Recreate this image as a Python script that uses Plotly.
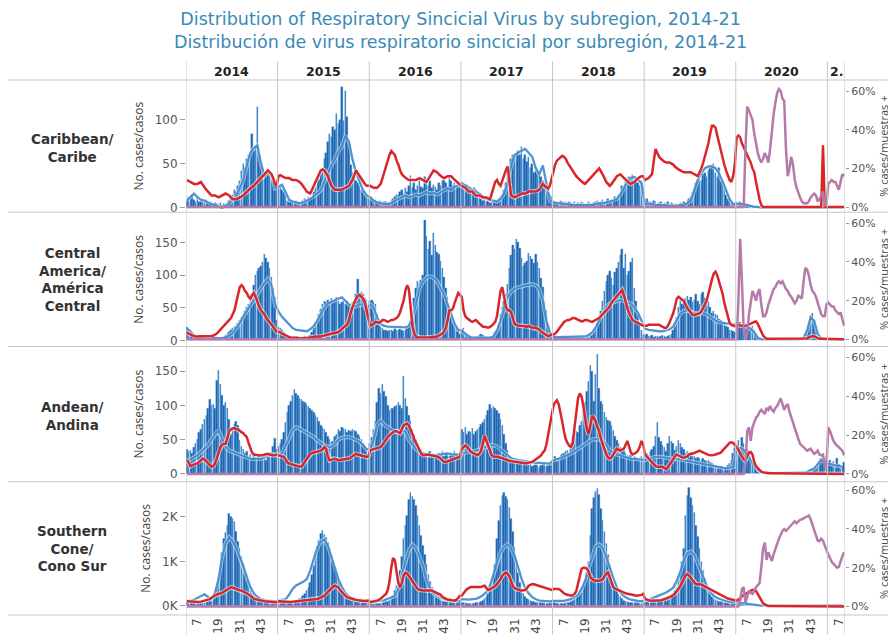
import plotly.graph_objects as go

# ---------------------------------------------------------------- labels
year_labels = ["2014", "2015", "2016", "2017", "2018", "2019", "2020", "2."]
week_ticks = [7, 19, 31, 43]
row_labels = ["Caribbean/<br>Caribe", "Central<br>America/<br>América<br>Central",
              "Andean/<br>Andina", "Southern<br>Cone/<br>Cono Sur"]
left_ticks = [[0, 50, 100], [0, 50, 100, 150], [0, 50, 100, 150], [0, 1000, 2000]]
left_ticktext = [["0", "50", "100"], ["0", "50", "100", "150"],
                 ["0", "50", "100", "150"], ["0K", "1K", "2K"]]
pct_ticks = [0, 20, 40, 60]
pct_ticktext = ["0%", "20%", "40%", "60%"]
title_lines = ["Distribution of Respiratory Sincicial Virus by subregion, 2014-21",
               "Distribución de virus respiratorio sincicial por subregión, 2014-21"]

# ---------------------------------------------------------------- data
# weekly cases (bars), one list per year 2014..2021
carib_cases = [
    [8,12,10,15,9,7,11,6,8,10,7,9,5,4,6,3,5,4,3,5,2,4,3,5,8,12,15,20,18,25,30,42,50,45,55,60,62,84,65,70,115,60,48,40,35,40,38,42,35,30,25,22],
    [22,25,20,18,14,8,6,7,5,6,8,5,7,6,8,10,9,12,10,11,18,22,28,32,38,42,55,62,75,84,80,92,88,107,95,100,137,99,133,103,73,49,40,35,30,28,25,20,18,15,14,12],
    [12,10,8,9,7,6,8,5,6,7,5,6,8,10,12,15,14,18,20,16,22,18,25,36,22,28,20,25,30,24,22,35,28,25,30,22,26,24,20,28,25,30,32,28,24,35,30,25,28,22,30,26],
    [28,25,22,26,20,24,18,22,20,15,12,10,8,10,6,8,5,6,6,8,7,10,12,15,20,28,35,45,55,60,58,62,65,60,69,55,60,52,58,45,50,40,42,38,40,35,30,28,25,20,15,12],
    [8,6,7,5,8,6,5,7,4,6,5,4,6,3,5,4,6,5,3,4,6,5,4,5,6,8,5,7,9,6,8,10,7,9,8,12,10,14,18,25,22,30,28,35,32,37,30,34,28,25,30,22],
    [8,10,6,7,5,8,6,4,5,7,3,5,4,6,3,5,4,2,4,3,5,4,6,5,8,10,12,18,22,28,32,35,30,38,40,35,42,45,48,50,40,35,45,30,28,22,15,10,8,5,4,3],
    [5,4,6,3,5,4,3,2,3,2,1,0,1,0,0,1,0,0,0,1,0,0,0,1,0,0,0,0,1,0,0,0,1,0,0,0,0,1,0,0,0,0,0,1,0,0,0,0,1,0,0,1],
    [1,0,1,1,0,1,0,1,1,0],
]
# smoothed cases (light blue line), every second week (1, 3, 5, ...)
carib_trend = [
    [8,12,16,12,9,8,6,4,3,1,0,2,5,9,14,22,32,48,62,68,71,51,36,40,38,22],
    [24,26,18,9,7,6,5,6,8,10,13,16,20,30,40,48,55,64,70,82,75,55,40,30,20,14],
    [12,8,6,5,4,4,5,8,10,12,14,12,13,15,14,16,18,16,17,15,18,20,22,20,24,25],
    [28,25,22,20,18,16,13,10,9,8,7,10,16,28,48,60,63,65,67,62,58,45,38,48,26,8],
    [6,5,5,4,4,3,3,3,3,3,3,3,4,5,5,6,7,8,10,15,22,30,34,35,32,28],
    [4,4,4,3,3,3,3,2,2,2,3,3,5,8,20,32,39,45,47,47,45,39,30,20,10,4],
    [5,4,4,3,2,1,1,0,0,0,0,0,0,0,0,0,0,0,0,0,0,0,0,0,0,0],
    [0,0,1,0,0],
]
# weekly % positive (red line)
carib_pos = [
    [14,13.5,13,12.5,12,12,12,12.5,13,11.5,10,9,8,7,6,6,6,5.5,5,5.5,6,6.5,7,6.5,6,5,4,4,4,4.5,5,5.5,6,7,8,9,10,10.5,11,12,13,14,15,16,17,18,19,18,17,15,12,11],
    [16,16.5,16,15.5,15,15,15,14.5,14,14,14,13.5,13,12,11,9.5,8,7.5,7,9,11,13,15,17,19,19.5,19,17.5,16,13.5,11,10,9,9,9,9,9,9.5,10,10.5,11,12.5,14,16.5,19,17.5,16,14.5,13,12,11,11],
    [11,10.5,10,10,10,11,12,15,18,21,25,27,29,28,27,24,22,19,17,16,15,14.5,14,14,14,14,14,14.5,15,14.5,14,13.5,13,14.5,16,17.5,19,18.5,18,17,16,15.5,15,15.5,16,16,16,15,14,13,12,11.5],
    [11,10.5,10,9,8,8,8,7,6,6,6,5.5,5,5,5,4.5,4,7,10,13,14,12,11,14,17,19,21,14,6,5.5,5,5.5,6,6.5,7,7,7,7.5,8,8,8,8,8,8.5,9,10.5,12,11,10,9.5,11,15],
    [19,22,24,25,26,26.5,26,25,23,21.5,20,18.5,17,16,15,14,13,12.5,12,13,14,15,16,17,18,19,20,18.5,17,15,13,12,11,12,13,14.5,16,16.5,17,16,15,14,13,12.5,12,12.5,13,14,15,15.5,16,16],
    [14,14.5,15,16,17,24,30,28,26,25,24,23.5,23,23,23,22.5,22,21,20,19.5,19,18.5,18,18,18,18,18,17.5,17,16.5,16,18,20,23,26,29,33,38,42,42,41,37,33,29,26,22,19,16,14,13,16,22],
    [36,37,36,33,31,29,27,25,23,20,18,13,8,4,1,0,0,0,0,0,0,0,0,0,0,0,0,0,0,0,0,0,0,0,0,0,0,0,0,0,0,0,0,0,0,0,0,0,0,32,0,0],
    [0,0,0,0,0,0,0,0,0,0],
]
# weekly % positive 2020-21 (purple line)
carib_pos20 = [
    [0,0,0,0,0,30,52,50,47,45,38,32,28,25,23,25,28,26,23,30,40,48,54,59,61,60,56,55,30,16,20,26,22,14,10,7,5,3,2,2,2,3,5,6,7,6,3,4,6,8,1,1],
    [12,13,14,13,13,11,9,13,17,16],
]

camer_cases = [
    [20,18,15,8,5,4,3,4,2,3,4,3,2,3,5,4,3,2,3,4,3,5,8,10,12,15,18,20,22,26,30,35,40,45,50,55,60,70,85,100,105,110,114,120,131,125,119,110,96,80,66,30],
    [20,18,15,12,10,8,7,5,4,6,5,4,3,5,4,6,5,7,8,12,18,25,32,40,48,55,60,58,62,60,65,58,62,66,60,55,58,62,56,60,55,50,58,62,70,94,72,74,70,65,61,56],
    [60,62,58,55,40,25,20,18,16,15,14,15,16,14,18,16,15,17,15,14,16,18,20,25,45,65,80,90,88,92,100,184,159,140,151,130,164,146,135,131,121,110,96,80,66,50,36,28,22,19,14,9],
    [15,18,12,10,8,6,5,4,5,6,8,10,8,5,4,3,4,5,8,12,16,25,40,50,60,70,86,110,130,146,140,154,150,141,125,114,118,121,134,128,124,118,131,119,111,95,81,60,46,25,12,6],
    [5,4,3,5,4,6,4,3,5,4,3,4,5,3,4,6,5,4,3,5,4,6,8,12,18,25,35,45,60,75,90,100,106,95,85,104,110,120,130,139,110,131,100,106,120,126,80,60,40,25,15,10],
    [8,10,7,6,8,5,6,7,5,6,8,6,5,7,8,10,15,22,35,50,61,55,60,65,68,62,66,58,62,71,60,55,70,74,65,56,60,50,41,45,40,38,32,30,26,28,22,20,16,15,14,12],
    [18,22,28,25,20,24,18,15,20,22,15,10,3,2,1,1,1,0,1,0,0,1,0,0,1,0,0,1,0,1,1,0,1,2,1,2,3,2,3,5,10,25,38,41,30,15,6,3,2,2,3,2],
    [3,2,2,3,2,2,1,2,1,1],
]
camer_trend = [
    [18,14,8,4,4,3,3,4,4,3,3,5,7,11,18,26,36,45,53,61,70,80,88,94,85,55],
    [44,36,30,24,19,16,15,14,14,17,22,30,41,50,56,59,61,64,66,60,55,52,52,55,55,48],
    [55,50,35,25,22,21,21,21,20,20,20,22,35,55,80,90,96,98,96,90,80,70,55,40,25,16],
    [15,10,6,4,4,4,4,4,4,6,15,30,50,66,74,79,81,83,84,85,86,84,78,61,30,12],
    [6,5,5,5,5,5,5,5,5,6,8,12,20,30,42,52,56,58,60,62,60,58,56,50,42,30],
    [18,16,15,14,14,14,15,17,21,32,41,45,46,43,42,41,42,41,38,34,30,28,27,26,25,24],
    [25,24,22,20,18,12,4,2,1,1,1,1,1,1,1,1,1,2,2,4,15,35,30,10,3,2],
    [2,2,2,1,1],
]
camer_pos = [
    [3.5,3,2.5,2,1.7,1.5,1.5,1.7,1.5,1.5,1.8,1.5,1.5,1.7,1.8,2,2.5,3,4,5,6,7,8,9,10,11,13,15,19,24,27,28,27,25,24,22,21,23,24,22,19,17,15,14,13,11,10,9,7.5,6.5,5,4],
    [4,3.5,3,2.5,2,1.5,1.2,1,1,0.8,1,0.8,0.5,0.5,0.8,0.5,0.5,0.8,1,1,1.2,1.5,1.5,1.2,1.5,1.8,2,2,2.2,2.5,2.8,3,3.2,3.4,3.8,4.5,5.5,6.5,7,7.6,10,14,17,19,21,22.5,23,22,21,19,15,10],
    [7,7.5,8,9,9,8.5,9,10,10,9.5,9,9.5,10,10,10.5,11,12,14,17,20,25,28,26,18,7,3,1.5,1,1,1,0.8,0.8,1,1,1,1.2,1.2,1.5,1.5,2,2.5,3,4,6,10,15,15,16,19,22,24,23],
    [22,15,12,11,10,9.5,9,9.3,10,9,8,7,6.5,6.5,6.2,6,6.5,7,8,9,12,18,25,27,22,17,15,15,14,11,8,7.5,7,7,7,7,6.8,6.5,7,6.5,6,6,6,5.5,5,4,3.4,3,2.5,1.7,2,2.5],
    [2.5,3,4,5,6.5,7.6,9,9.5,10,10,10.5,11,11,10.5,10,9.5,9.3,9.5,10,10,9.5,9.3,9,9.5,10,10.5,11,12,13,14,15,16,17,19,20,21,22,23,24.5,25.5,23,19,16,13.5,11.5,10,9.3,9,8.5,8,7.5,7],
    [7,7,7.5,7.5,7.6,7.6,7.5,7.6,7.6,7,6.5,6,6,7,9,11,13.5,17,21,22,21,20.5,20,18,16,15,14,12.7,12.5,12.8,13,13.5,14.5,16,18,20,24,28,31,34,35,33,30,27,23.7,19,15,11,8.5,7.5,7,6.8],
    [7.6,7.6,7.2,7,6.8,7,7.3,7.6,8,8.5,9,9.3,8,6,4,2,1,0.3,0.3,0.3,0.3,0.3,0.3,0.3,0.3,0.3,0.3,0.3,0.3,0.3,0.3,0.3,0.3,0.3,0.3,0.3,0.3,0.3,0.3,0.3,0.5,1,1.5,1.7,1.5,1,0.5,0.3,0.3,0.3,0.3,0.3],
    [0,0,0,0,0,0,0,0,0,0],
]
camer_pos20 = [
    [0,20,52,30,5,0,3,13,20,25,23,20,24,26,18,12,12,14,18,21,24,26,27,29,30,29,30,28,26,25,23,22,20,18.6,20,22.5,22,21,30,37,36,33,28,25,24,22,19,16,13,12,12,18],
    [19,18,17,17,15,14,13,14,11,7],
]

andean_cases = [
    [35,32,34,30,38,45,50,60,65,72,80,85,95,108,100,101,96,137,151,130,115,100,104,95,80,58,65,72,77,70,49,40,35,30,32,25,28,22,30,24,20,26,22,28,24,20,26,30,28,40,51,35],
    [40,45,50,60,75,89,100,106,115,123,118,115,110,108,106,104,102,99,95,92,89,86,82,76,70,68,65,60,54,50,46,48,55,58,65,62,68,66,65,60,63,62,65,64,62,58,54,50,44,40,34,28],
    [45,53,65,77,104,125,118,130,120,113,100,92,96,96,98,100,104,100,96,142,110,99,85,77,65,58,50,44,38,34,30,27,30,28,32,25,30,28,26,30,28,32,26,30,28,25,30,27,32,28,26,30],
    [65,60,68,58,62,60,66,58,62,65,68,72,75,80,85,92,101,95,98,96,92,88,80,70,58,45,34,26,22,20,18,16,15,14,18,15,12,14,16,13,11,12,14,12,10,12,14,13,11,12,13,14],
    [20,25,18,22,25,28,30,32,34,30,45,55,68,62,60,70,77,94,105,120,135,159,150,106,145,175,125,106,101,90,82,78,77,70,63,55,49,44,39,36,34,30,27,25,28,22,26,24,20,22,25,20],
    [28,30,27,32,35,40,55,75,53,48,42,38,33,45,54,48,44,34,40,49,45,39,35,30,32,30,28,25,26,22,24,22,20,22,20,18,20,16,15,13,12,11,10,11,9,10,8,12,15,20,30,38],
    [40,49,38,53,45,30,35,28,25,18,12,10,6,3,2,2,1,1,1,0,1,0,0,1,0,1,0,0,1,0,1,0,1,1,0,1,1,2,1,2,3,2,4,5,6,8,12,18,22,20,15,25],
    [15,20,12,18,10,22,14,8,12,16],
]
andean_trend = [
    [20,21,24,27,32,37,42,50,58,64,52,40,34,32,30,28,25,24,22,22,22,22,24,27,30,28],
    [26,30,40,52,64,68,66,63,60,58,54,49,45,42,40,39,44,50,53,54,54,52,50,47,42,36],
    [35,50,72,78,72,68,65,62,62,63,62,50,42,36,32,30,28,27,27,28,29,30,30,29,28,28],
    [30,31,31,32,33,35,38,40,42,42,40,36,32,27,23,21,20,19,18,17,17,16,16,16,15,15],
    [20,21,23,25,27,30,33,36,39,43,47,50,51,50,49,42,34,31,28,27,25,24,22,22,21,20],
    [20,22,24,25,25,24,24,23,22,22,21,20,19,18,17,16,15,14,13,12,11,10,9,8,9,10],
    [35,38,35,28,20,12,6,3,2,1,1,1,1,1,1,1,1,1,2,2,3,5,8,14,20,18],
    [15,14,12,12,10],
]
andean_pos = [
    [7,6,4,4.5,5,5.2,5.4,6,7,7.9,7.5,6.5,5.5,4.5,3.7,4,5.5,8,11,13.8,15,15.5,15.5,19,22,23,23.5,23.5,23,23,22,21.5,21,20,19,16,13,11,10,9.8,9.6,9.5,9.6,9.6,10,10.2,10.4,10,9.6,9.6,9.6,10],
    [9.6,9.2,9,8.7,7.5,6,5.4,5,4.7,4.5,4.2,4,3.8,3.7,5,6.2,7.5,9,10.4,10.8,11,11.2,11.3,11.6,12,12.5,13.8,13,9,7,7.3,7.9,7.8,7.5,7,7.2,7.4,7.4,7.6,7.8,7.9,8.5,9.2,10,10.4,10,9.6,9.6,9.2,9,8.7,9],
    [12,12.5,12.8,13,13.2,13.5,13.8,15,16.5,18,19,20,21,21.5,22,22,21.5,21,23,25,25.5,26,25,23,20.5,18,16,13.8,12,10.5,9.6,9.8,10,10,9.8,9.6,9.6,9.4,9,8.5,8,7,6.2,6.2,6.6,7,7.2,7.5,7.9,8.2,8.5,8.7],
    [13,14,14.6,14,12.5,11.5,11,10.5,10,9.6,10.5,12,16,19.7,17,14.6,12,9.6,9,9,8.8,8.7,8.4,8,7.6,7.3,7,6.8,6.6,6.5,6.4,6.3,6.2,6,5.8,5.6,5.4,5.5,5.8,6,6.2,6.8,7.4,7.9,8.5,9.5,11,12,15,19.7,24,30],
    [35,37,38,36,32,27,22,18,16,14.5,14,16,24,32,39,41.5,40,35,28,23,20.5,26,30,29,27,24,22,18,15,12,10,8.5,7.9,8.5,10,12,13,12.5,12,12.5,13,15,17,14,11,10,10.5,11,12,14,17,15],
    [10,9,8,6.5,6,5,4,3.7,3.7,3.7,3.7,3,2.5,3.5,5,6.5,8,9,10,9.5,8.7,8.5,8.3,8.5,9,10,10.5,10.4,10.8,11.5,12,12,11.5,11,10.4,10,9.8,9.6,9.6,9.8,10,10.4,10.4,11,12,13,13.8,15,16,16.3,16,15],
    [13.8,12.5,10.5,8.7,7.5,7,9,11,11.3,10,6.2,4,2.9,1.8,1.2,0.8,0.5,0.3,0.3,0.3,0.3,0.3,0.3,0.3,0.3,0.3,0.3,0.3,0.3,0.3,0.3,0.3,0.3,0.3,0.3,0.3,0.3,0.3,0.3,0.3,0.3,0.3,0.3,0.3,0.3,0.3,0.3,0.3,0.3,0.3,0.3,0.3],
    [0,0,0,0,0,0,0,0,0,0],
]
andean_pos20 = [
    [0,0,0,0,0,5,22,24,17,24,27,29,30,32,33,32,31,34,33,35,33,32,34,35,37,39,36,33,35,36,32,29,27,24,21,18,15.5,14.5,13.8,13,12,12.5,13,11.5,10.4,11,12,10,9.6,10,4,3],
    [24,22,19,17,15.5,14.5,13.8,13,12,9.6],
]

scone_cases = [
    [90,80,85,70,75,60,65,55,60,70,80,90,100,120,150,190,260,410,600,920,1200,1510,1650,1800,2060,1990,1950,1880,1660,1450,1290,1100,920,720,560,430,340,280,220,190,160,140,120,110,100,95,90,85,80,75,80,85],
    [85,80,75,70,75,80,85,90,100,110,120,140,160,190,230,265,330,410,520,700,900,1140,1350,1470,1620,1690,1600,1520,1420,1300,1150,1000,850,700,560,470,410,320,230,180,150,120,110,100,95,90,85,80,80,75,70,70],
    [60,50,45,40,45,50,55,60,70,85,100,120,160,230,340,450,600,800,1100,1510,1800,2020,2390,2540,2450,2390,2240,2020,1800,1580,1350,1140,920,700,540,410,320,230,180,150,120,110,100,95,90,85,80,75,70,75,80,85],
    [80,70,60,55,50,45,50,55,60,70,80,90,110,150,200,265,350,480,700,920,1500,1900,2240,2460,2540,2450,2390,2200,1950,1660,1300,1000,750,530,380,265,200,160,130,120,100,90,80,75,70,65,60,60,55,55,60,65],
    [70,60,55,50,45,50,55,60,70,80,100,120,150,180,220,280,340,450,560,750,1000,1580,2170,2430,2550,2620,2500,2170,1900,1660,1400,1140,900,700,520,420,340,260,200,160,120,100,90,80,75,70,65,60,60,55,55,60],
    [80,85,90,95,100,105,110,115,120,125,130,140,150,160,170,220,265,340,410,560,700,1000,1290,2020,2460,2650,2430,2250,2100,1800,1550,1290,1000,780,600,450,360,280,200,150,130,110,100,95,90,85,80,75,70,65,60,55],
    [55,50,45,40,35,30,25,20,15,10,8,6,5,6,5,4,5,6,5,4,5,6,5,4,5,6,5,4,5,6,5,4,5,6,5,6,7,6,8,7,9,8,10,9,8,10,9,11,10,9,10,11],
    [10,12,15,12,10,14,16,12,10,15],
]
scone_trend = [
    [120,110,140,180,230,260,200,160,300,600,1100,1400,1540,1450,1300,1100,900,650,420,280,200,150,130,120,110,100],
    [120,130,150,250,380,460,500,540,600,790,1050,1300,1450,1490,1350,1100,880,600,420,290,210,170,140,130,120,115],
    [100,95,100,110,130,160,190,220,380,700,1000,1250,1370,1300,1100,900,580,380,280,220,180,150,130,120,110,100],
    [150,140,140,150,160,190,240,310,450,700,1000,1200,1320,1380,1300,1120,850,600,400,280,200,150,120,110,100,100],
    [110,105,110,115,125,150,200,260,380,560,850,1100,1330,1380,1300,1100,850,620,420,300,220,170,140,120,110,105],
    [120,140,170,200,240,270,300,350,410,560,760,1020,1180,1220,1140,950,750,520,360,270,200,160,130,110,95,80],
    [80,70,60,45,30,15,10,8,6,5,5,5,5,5,5,5,5,5,5,6,7,8,9,10,10,10],
    [10,12,14,15,15],
]
scone_pos = [
    [2.7,2.6,2.5,2.4,2.3,2.2,2.2,2.3,2.5,2.7,2.8,3,3.3,3.8,4.5,5.3,5.8,6.2,6.4,6.5,7,7.6,8.2,8.8,9.5,9.9,9.7,9.3,9,8.7,8.4,8.2,7.8,7.2,6.7,6.3,5.5,4.7,4,3.7,3.4,3.2,3,2.9,2.7,2.6,2.5,2.4,2.4,2.3,2.3,2.2],
    [2.7,2.6,2.5,2.4,2.3,2.2,2.2,2.3,2.4,2.5,2.6,2.6,2.7,2.8,2.9,3,3,3.2,3.4,3.6,3.7,3.8,3.9,4.2,4.6,5.1,5.6,6.5,7.6,8.5,9.5,10.3,10.7,10.3,9.8,8.5,7.3,6.3,5.5,4.8,4.4,4,3.8,3.6,3.4,3.2,3,2.9,2.8,2.8,2.9,3],
    [2.2,2.3,2.5,2.7,3,3.4,3.9,4.8,5.7,6.5,8.5,13,20,25,24,18,12,9.9,12,16,17.5,17,16,14.5,13,11.6,10.3,9,8.6,8.3,8.2,8.2,8.3,8.4,8.3,8.2,7.8,7.3,6.9,6.5,6,5,4.2,3.9,3.6,3.4,3.2,3.1,3,3.5,4.5,5.6],
    [5.6,7,8,9,9.7,10,10,10,9.9,9.7,9.8,10,10.5,10.7,9.5,8.5,8.8,9.3,9.8,10.5,11.5,12.8,14,16,17,17.5,17,15.5,13,10.5,9.5,9,8.6,8.4,8.3,8.3,8.5,9.5,10.7,11.2,11.6,11.5,11.2,11,10.8,10.5,10.2,10,9.8,9.5,9,8.5],
    [9,9,9,9,8.5,7.5,6.8,6.3,6,5.8,5.6,5.8,6.5,8,12,17,19.5,20,20,19.5,18,15,14,13.5,13.3,13.2,13.3,13.5,14,15.5,17,17.5,15,12,10,9.2,8.8,8.3,7.8,7.3,7,6.8,6.6,6.5,6.3,6,5.8,5.6,5.6,5.8,6,6.5],
    [4,3.5,3.2,3,3,3,3,3,3,3.2,3.5,3.8,3.9,4.3,4.8,5.3,5.8,6.8,7.8,9,10.5,12,14,16,16.7,16,15,13.5,12.3,11.6,11.4,11.6,11.3,10.8,10.5,9.8,9.2,8.7,8.2,7.7,7.3,7,6.5,6,5.6,5,4.5,4.1,3.9,3.7,3.5,3.3],
    [3,3.5,4.5,5.2,5.8,6.5,7,7.6,8.2,8.5,8.6,8,6.5,4.5,2.8,1.6,1,0.6,0.3,0.3,0.3,0.3,0.3,0.3,0.3,0.3,0.3,0.3,0.3,0.3,0.3,0.3,0.3,0.3,0.3,0.3,0.3,0.3,0.3,0.3,0.3,0.3,0.3,0.3,0.3,0.3,0.3,0.3,0.3,0.3,0.3,0.3],
    [0,0,0,0,0,0,0,0,0,0],
]
scone_pos20 = [
    [0,0,3,9,10,2,5,8,7,6.5,8,10,11,12,20,30,33,24,28,26,23.5,27,30,32,35,37,39,40,39,40,41,42,43,44,43,44,44.7,45,45.5,46,46.5,47,45,42,39,37,34,33.7,35,34,31,29],
    [27,25,23,22,21,20,20.5,23.5,26,28],
]

regions = [
    (carib_cases, carib_trend, carib_pos, carib_pos20),
    (camer_cases, camer_trend, camer_pos, camer_pos20),
    (andean_cases, andean_trend, andean_pos, andean_pos20),
    (scone_cases, scone_trend, scone_pos, scone_pos20),
]

# ---------------------------------------------------------------- layout helpers
W, H = 896, 638
PLOT_L, PLOT_R, PLOT_T, PLOT_B = 178, 837, 72, 618
PW, PH = PLOT_R - PLOT_L, PLOT_B - PLOT_T
WK = 52                                 # every year column is drawn 52 weeks wide
X_END = 7 * WK + len(carib_cases[-1])   # 2021 only has its first weeks


def px_y(p):
    return (PLOT_B - p) / PH


def px_x(p):
    return (p - PLOT_L) / PW


row_px = [(72, 207), (207, 344), (344, 482), (482, 618)]
left_range = [[-5.2, 145.4], [-9.4, 196], [-11.5, 186.2], [-204, 2785]]
right_range = [[-2.68, 65.7], [-3.7, 65.7], [-4.04, 65.7], [-4.4, 64.4]]
label_y = [141, 276, 415, 550]

BAR = "#1d5fa7"
BAR_EDGE = "#4f9de0"
TREND = "#3d89cb"
RED = "#d9262b"
PURPLE = "#b57aa8"
GRID = "#c8c8c8"
TICKFONT = dict(family="DejaVu Sans", size=12, color="#555")
TITLEFONT = dict(family="Open Sans", size=12, color="#444")


def flatten(years, step=1):
    xs, ys = [], []
    for k, vals in enumerate(years):
        for i, v in enumerate(vals):
            xs.append(k * WK + i * step + 0.5)
            ys.append(v)
    return xs, ys


fig = go.Figure()
layout = dict(
    width=W, height=H, paper_bgcolor="white", plot_bgcolor="white",
    margin=dict(l=PLOT_L, r=W - PLOT_R, t=PLOT_T, b=H - PLOT_B),
    showlegend=False, bargap=0,
    font=dict(family="DejaVu Sans", size=12, color="#555"),
)

for r, (cases, trend, pos, pos20) in enumerate(regions):
    ly = f"y{2 * r + 1}" if r else "y"
    ry = f"y{2 * r + 2}"
    lkey = f"yaxis{2 * r + 1}" if r else "yaxis"
    rkey = f"yaxis{2 * r + 2}"
    top, bot = row_px[r]
    dom = [px_y(bot), px_y(top)]

    bx, by = flatten(cases)
    fig.add_trace(go.Bar(x=bx, y=by, width=0.85, xaxis="x", yaxis=ly,
                         marker=dict(color=BAR, line=dict(color=BAR_EDGE, width=0.4)),
                         hoverinfo="skip"))
    tx, ty = flatten(trend, step=2)
    fig.add_trace(go.Scatter(x=tx, y=ty, mode="lines", xaxis="x", yaxis=ly,
                             line=dict(color="white", width=4), opacity=0.55, hoverinfo="skip"))
    fig.add_trace(go.Scatter(x=tx, y=ty, mode="lines", xaxis="x", yaxis=ly,
                             line=dict(color=TREND, width=2.3), opacity=0.9, hoverinfo="skip"))

    rx, rv = flatten(pos)
    fig.add_trace(go.Scatter(x=rx, y=rv, mode="lines", xaxis="x", yaxis=ry,
                             line=dict(color="white", width=4.5), opacity=0.6, hoverinfo="skip"))
    fig.add_trace(go.Scatter(x=rx, y=rv, mode="lines", xaxis="x", yaxis=ry,
                             line=dict(color=RED, width=2.5), hoverinfo="skip"))

    # purple series sits at zero before 2020
    px_, pv = flatten([[0] * WK] * 6 + pos20)
    fig.add_trace(go.Scatter(x=px_, y=pv, mode="lines", xaxis="x", yaxis=ry,
                             line=dict(color=PURPLE, width=2.5), hoverinfo="skip"))

    layout[lkey] = dict(
        domain=dom, range=left_range[r], anchor="x",
        tickvals=left_ticks[r], ticktext=left_ticktext[r],
        ticks="outside", ticklen=5, tickcolor="#999", showgrid=False, zeroline=False,
        showline=False, tickfont=TICKFONT,
        title=dict(text="No. cases/casos", font=TITLEFONT, standoff=8),
    )
    layout[rkey] = dict(
        domain=dom, range=right_range[r], anchor="x", overlaying=ly, side="right",
        tickvals=pct_ticks, ticktext=pct_ticktext, ticks="outside", ticklen=3,
        tickcolor="#999", showgrid=False, zeroline=False, showline=False,
        tickfont=dict(family="DejaVu Sans", size=11, color="#555"),
        title=dict(text="% cases/muestras +", font=dict(family="Open Sans", size=11, color="#444"),
                   standoff=0),
    )

tickvals, ticktext = [], []
for k in range(len(year_labels)):
    for w in week_ticks:
        if k * WK + w > X_END:
            continue
        tickvals.append(k * WK + w - 0.5)
        ticktext.append(str(w))

layout["xaxis"] = dict(
    domain=[0, 1], range=[0, X_END], anchor="y7",
    tickvals=tickvals, ticktext=ticktext, tickangle=-90, ticks="",
    showgrid=False, zeroline=False, showline=False,
    tickfont=dict(family="DejaVu Sans", size=12, color="#444"),
)

shapes = []
for yb in [72, 207, 344, 482, 618]:
    shapes.append(dict(type="line", xref="paper", yref="paper",
                       x0=px_x(0), x1=px_x(W), y0=px_y(yb), y1=px_y(yb),
                       line=dict(color=GRID, width=1)))
for k in range(8):
    shapes.append(dict(type="line", xref="x", yref="paper", x0=k * WK, x1=k * WK,
                       y0=px_y(H), y1=px_y(53), line=dict(color=GRID, width=1)))
shapes.append(dict(type="line", xref="x", yref="paper", x0=X_END, x1=X_END,
                   y0=px_y(H), y1=px_y(53), line=dict(color=GRID, width=1)))
layout["shapes"] = shapes

ann = [dict(text="<br>".join(title_lines), xref="paper", yref="paper",
            x=px_x(452), y=px_y(-2), showarrow=False, xanchor="center", yanchor="top",
            align="center", font=dict(family="DejaVu Sans", size=17.5, color="#3a8ab5"))]
for k, lab in enumerate(year_labels):
    xc = k * WK + 26 if k < 7 else 7 * WK + 5
    ann.append(dict(text=f"<b>{lab}</b>", xref="x", yref="paper", x=xc, y=px_y(63),
                    showarrow=False, xanchor="center", yanchor="middle",
                    font=dict(family="DejaVu Sans", size=12.5, color="#222")))
for r, lab in enumerate(row_labels):
    ann.append(dict(text=f"<b>{lab}</b>", xref="paper", yref="paper", x=px_x(64),
                    y=px_y(label_y[r]), showarrow=False, xanchor="center", yanchor="middle",
                    align="center", font=dict(family="DejaVu Sans", size=13.5, color="#333")))
layout["annotations"] = ann

fig.update_layout(**layout)
fig.write_html("out.html")
